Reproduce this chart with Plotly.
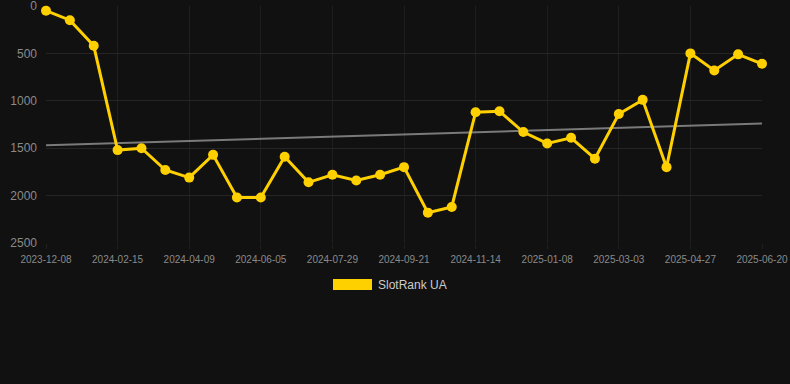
import plotly.graph_objects as go

dates = ["2023-12-08", "2023-12-31", "2024-01-23", "2024-02-15", "2024-03-04",
         "2024-03-22", "2024-04-09", "2024-04-28", "2024-05-17", "2024-06-05",
         "2024-06-23", "2024-07-11", "2024-07-29", "2024-08-16", "2024-09-03",
         "2024-09-21", "2024-10-09", "2024-10-27", "2024-11-14", "2024-12-02",
         "2024-12-20", "2025-01-08", "2025-01-26", "2025-02-13", "2025-03-03",
         "2025-03-21", "2025-04-08", "2025-04-27", "2025-05-15", "2025-06-02",
         "2025-06-20"]
ranks = [50, 150, 420, 1520, 1500, 1730, 1810, 1570, 2020, 2020,
         1590, 1860, 1780, 1840, 1780, 1700, 2180, 2120, 1120, 1110,
         1330, 1450, 1390, 1610, 1140, 990, 1700, 500, 680, 510, 610]
trend_ends = [1470, 1240]
tick_labels = dates[::3]
y_ticks = [0, 500, 1000, 1500, 2000, 2500]
series_name = "SlotRank UA"

fig = go.Figure()
fig.add_trace(go.Scatter(
    x=[dates[0], dates[-1]], y=trend_ends, mode="lines",
    line=dict(color="#7a7a7a", width=2), hoverinfo="skip", showlegend=False))
fig.add_trace(go.Scatter(
    x=dates, y=ranks, mode="lines+markers", name=series_name,
    line=dict(color="#ffd000", width=3), cliponaxis=False,
    marker=dict(color="#ffd000", size=10), showlegend=False))

fig.update_layout(
    width=790, height=384,
    margin=dict(l=46, r=28, t=6, b=141),
    paper_bgcolor="#111111", plot_bgcolor="#111111",
    font=dict(family="Liberation Sans, Arial, sans-serif", color="#8a8a8a"),
    xaxis=dict(type="category", categoryorder="array", categoryarray=dates,
               range=[0, len(dates) - 1], automargin=False,
               tickmode="array", tickvals=tick_labels, ticktext=tick_labels,
               tickfont=dict(size=10, color="#8a8a8a"),
               showgrid=True, gridcolor="#1f1f1f", gridwidth=1,
               ticks="outside", ticklen=5, tickcolor="#1f1f1f",
               ticklabelstandoff=2,
               showline=False, zeroline=False, ticklabeloverflow="allow"),
    yaxis=dict(range=[2500, 0], tickvals=y_ticks, automargin=False,
               tickfont=dict(size=12, color="#8a8a8a"),
               showgrid=True, gridcolor="#252525", gridwidth=1,
               zeroline=False, showline=False, ticks="", ticklabelstandoff=8,
               ticklabeloverflow="allow"),
    showlegend=False,
)

fig.add_shape(type="rect", xref="paper", yref="paper",
              x0=(333 - 46) / 716, x1=(372 - 46) / 716,
              y0=(243 - 290) / 237, y1=(243 - 279) / 237,
              fillcolor="#ffd000", line=dict(width=0))
fig.add_annotation(text=series_name, xref="paper", yref="paper",
                   x=(376 - 46) / 716, y=(243 - 284.5) / 237,
                   xanchor="left", yanchor="middle", showarrow=False,
                   font=dict(size=12, color="#cccccc"))

fig.write_html("out.html", config={"displayModeBar": False},
               post_script="document.body.style.margin='0';"
                           "document.body.style.background='#111111';")
